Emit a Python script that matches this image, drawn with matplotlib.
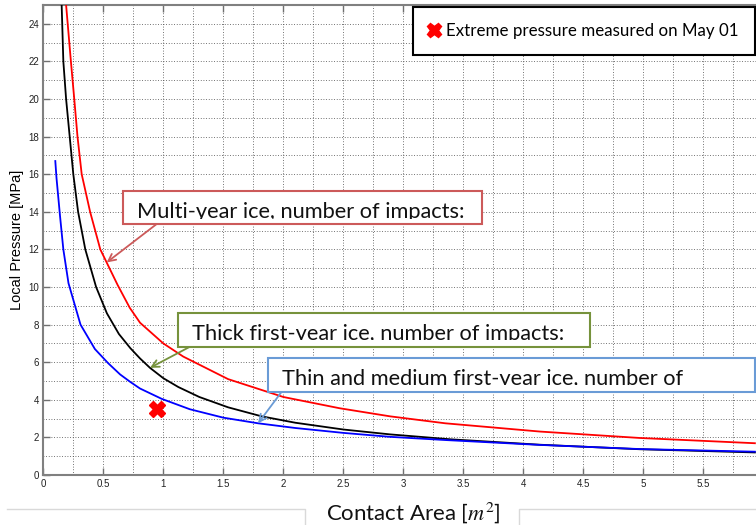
import numpy as np
import matplotlib
matplotlib.use("Agg")
import matplotlib.pyplot as plt
from matplotlib.patches import Rectangle
from matplotlib.lines import Line2D
from matplotlib.ticker import MultipleLocator, FormatStrFormatter
from matplotlib.transforms import Bbox, TransformedBbox

# Pressure-area curves (contact area in m^2, local pressure in MPa)
area_multi = [0.19, 0.23, 0.258, 0.285, 0.32, 0.39, 0.475, 0.62, 0.72, 0.806,
              1.0, 1.166, 1.54, 2.0, 2.47, 2.89, 3.35, 4.14, 4.97, 5.93]
press_multi = [25.0, 22.0, 20.0, 18.0, 16.0, 14.0, 12.0, 10.1, 8.9, 8.1,
               7.0, 6.3, 5.1, 4.15, 3.55, 3.12, 2.75, 2.31, 1.97, 1.69]

area_thick = [0.153, 0.167, 0.19, 0.22, 0.25, 0.29, 0.35, 0.44, 0.53, 0.63,
              0.725, 0.806, 0.889, 1.0, 1.125, 1.3, 1.54, 1.82, 2.1, 2.5,
              2.89, 3.39, 4.14, 4.97, 5.93]
press_thick = [25.0, 22.0, 20.0, 18.0, 16.0, 14.0, 12.0, 10.0, 8.6, 7.5,
               6.75, 6.2, 5.7, 5.15, 4.68, 4.15, 3.6, 3.12, 2.78, 2.42,
               2.16, 1.9, 1.61, 1.37, 1.2]

area_thin = [0.10, 0.11, 0.139, 0.167, 0.21, 0.31, 0.43, 0.54, 0.64, 0.725,
             0.806, 0.987, 1.22, 1.5, 1.79, 2.1, 2.5, 2.89, 3.35, 4.14,
             4.97, 5.93]
press_thin = [16.7, 15.8, 13.8, 12.0, 10.2, 8.0, 6.7, 5.95, 5.35, 4.95,
              4.6, 4.05, 3.5, 3.05, 2.75, 2.5, 2.24, 2.03, 1.86, 1.6,
              1.38, 1.24]

# Measured extreme event
event_area = [0.945]
event_press = [3.5]

x_ticks = [0, 0.5, 1, 1.5, 2, 2.5, 3, 3.5, 4, 4.5, 5, 5.5]
y_ticks = [0, 2, 4, 6, 8, 10, 12, 14, 16, 18, 20, 22, 24]

plt.rcParams["mathtext.fontset"] = "stix"

W, H = 756, 525
fig = plt.figure(figsize=(W / 100, H / 100), dpi=100)
fig.patch.set_facecolor("white")
ax = fig.add_axes([43.3 / W, 50 / H, 720 / W, 470 / H])

ax.plot(area_multi, press_multi, color="#ff0000", lw=1.3, zorder=3)
ax.plot(area_thick, press_thick, color="black", lw=1.3, zorder=3)
ax.plot(area_thin, press_thin, color="#0000ff", lw=1.3, zorder=4)
ax.plot(event_area, event_press, linestyle="none", marker="X", ms=11,
        color="#ff0000", mec="#ff0000", zorder=5,
        label="Extreme pressure measured on May 01")

ax.set_xlim(0, 6)
ax.set_ylim(0, 25)
ax.set_xticks(x_ticks)
ax.set_yticks(y_ticks)
ax.xaxis.set_major_formatter(FormatStrFormatter("%g"))
ax.xaxis.set_minor_locator(MultipleLocator(0.25))
ax.yaxis.set_minor_locator(MultipleLocator(1))
ax.tick_params(which="major", direction="in", length=5, width=1, color="#707070",
               top=True, labelsize=7, labelcolor="#222222", pad=3)
ax.tick_params(which="minor", length=0)
for lab in ax.get_xticklabels() + ax.get_yticklabels():
    lab.set_fontfamily("Liberation Sans")
ax.grid(True, which="both", color="#444444", linestyle=(0, (1, 2.2)), lw=0.6)
for side in ("left", "bottom", "top"):
    ax.spines[side].set_color("#808080")
    ax.spines[side].set_linewidth(1.5)
ax.spines["right"].set_visible(False)

ax.set_ylabel("Local Pressure [MPa]", fontfamily="Liberation Sans", fontsize=10.5,
              labelpad=3)

# Legend
leg = ax.legend(loc="upper left", bbox_to_anchor=(413 / W, 1 - 7 / H),
                bbox_transform=fig.transFigure, borderaxespad=0,
                prop={"family": "Lato", "size": 12.2}, fancybox=False,
                framealpha=1, edgecolor="black", handlelength=0.6,
                handletextpad=0.4, borderpad=0.95, markerscale=0.95)
leg.get_frame().set_linewidth(1.5)


def fig_box(x0, y0, x1, y1):
    """Rectangle in figure pixel coordinates measured from the top-left."""
    return (x0 / W, 1 - y1 / H, (x1 - x0) / W, (y1 - y0) / H)


def callout(x0, y0, x1, y1, text, text_x, baseline, color, tip_area,
            tip_press, tail_x, tail_y):
    fx, fy, fw, fh = fig_box(x0, y0, x1, y1)
    rect = Rectangle((fx, fy), fw, fh, transform=fig.transFigure,
                     facecolor="white", edgecolor=color, lw=1.5, zorder=10)
    fig.add_artist(rect)
    t = fig.text(text_x / W, 1 - baseline / H, text, fontfamily="Lato",
                 fontsize=15.7, color="#111111", va="baseline", ha="left",
                 zorder=11)
    # the text frame is shorter than the text, so descenders are cut off
    clip = TransformedBbox(Bbox.from_extents(x0 / W, 1 - baseline / H, x1 / W, 1 - y0 / H),
                           fig.transFigure)
    t.set_clip_box(clip)
    t.set_clip_on(True)
    ax.annotate("", xy=(tip_area, tip_press), xycoords="data",
                xytext=(tail_x, H - tail_y), textcoords="figure pixels",
                arrowprops=dict(arrowstyle="->", color=color, lw=1.3,
                                shrinkA=0, shrinkB=0, mutation_scale=13),
                zorder=9, annotation_clip=False)


tip_a = 0.528
callout(123.3, 190.7, 481.7, 224, "Multi-year ice, number of impacts:",
        136.7, 218.5, "#cc5a5a", tip_a,
        float(np.interp(tip_a, area_multi, press_multi)), 156.7, 224)
tip_a = 0.889
callout(177.7, 313.3, 590, 346.7, "Thick first-year ice, number of impacts:",
        191.7, 339.5, "#76923c", tip_a,
        float(np.interp(tip_a, area_thick, press_thick)), 190, 346.7)
tip_a = 1.79
callout(268.3, 357.7, 755, 391.7, "Thin and medium first-year ice, number of",
        281.7, 385, "#6a9bd6", tip_a,
        float(np.interp(tip_a, area_thin, press_thin)), 281.7, 391.7)

# X axis title below the plot, framed by the light page outlines
fig.text(413 / W, 1 - 519 / H, r"Contact Area [$m^2$]", fontfamily="Lato",
         fontsize=16, color="#111111", ha="center", va="baseline")
for xs, ys in (([7, 305, 305], [509, 509, 525]), ([519, 519, 756], [525, 509, 509])):
    fig.add_artist(Line2D([x / W for x in xs], [1 - y / H for y in ys],
                          transform=fig.transFigure, color="#d9d9d9", lw=1))

fig.savefig("out.png", dpi=100)
